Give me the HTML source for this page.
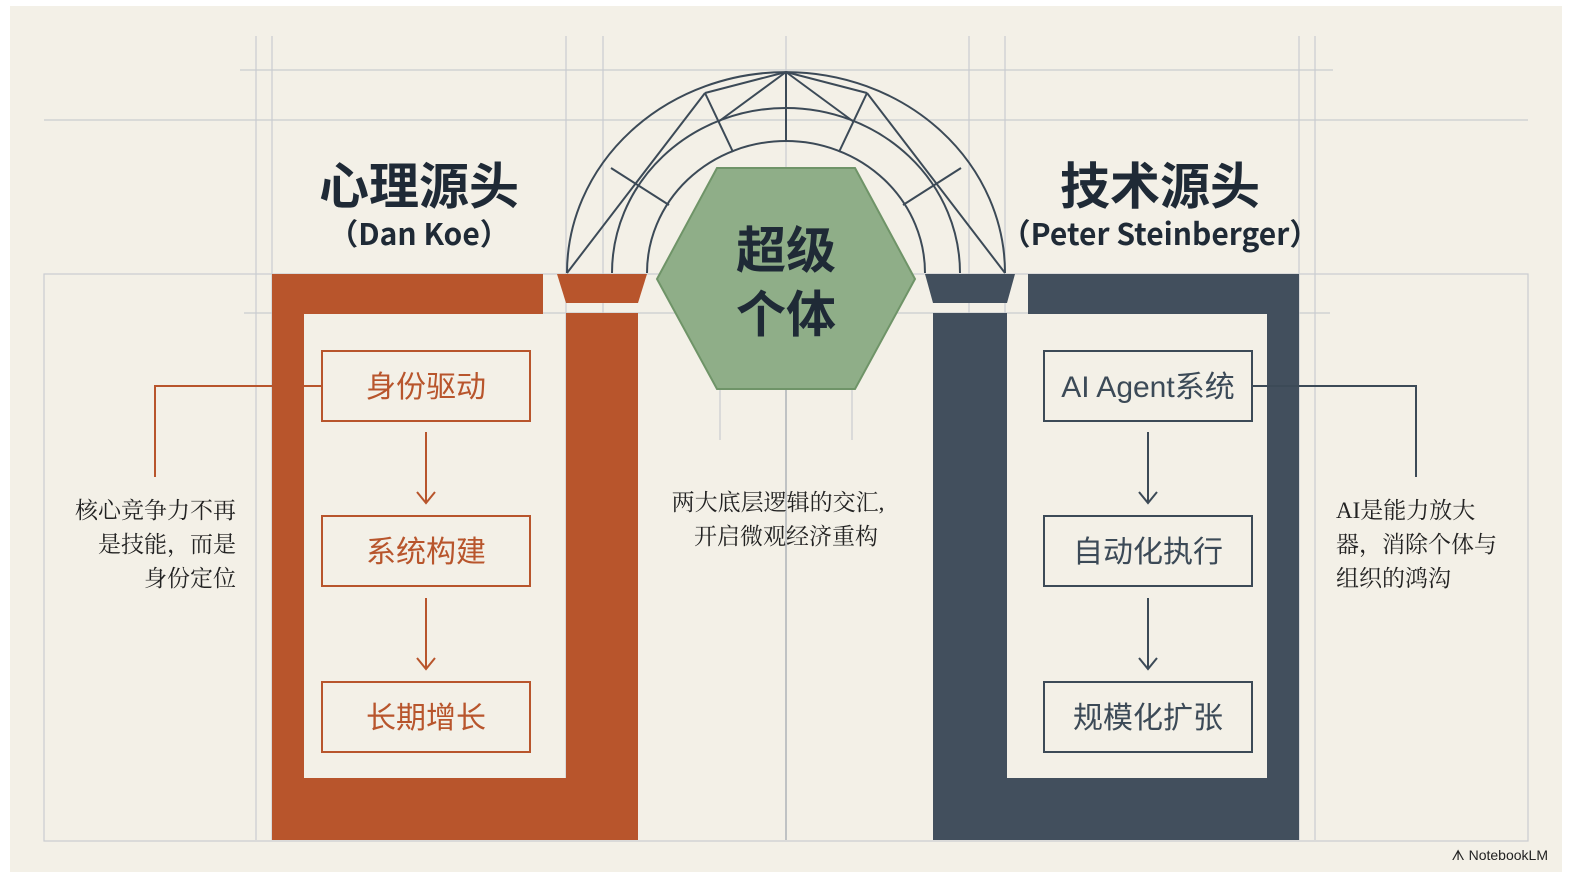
<!DOCTYPE html>
<html><head><meta charset="utf-8"><style>
html,body{margin:0;padding:0;background:#fff;}
svg{display:block}
.h{font-family:"Liberation Sans","Noto Sans CJK SC",sans-serif;font-weight:700;fill:#1f2a36}
.s{font-family:"Noto Sans CJK SC",sans-serif;font-weight:700;fill:#1f2a36}
.b{font-family:"Liberation Sans","Noto Sans CJK SC",sans-serif;font-size:30px}
.n{font-family:"Liberation Serif","Noto Serif CJK SC",serif;font-size:23px;fill:#222}
</style></head><body>
<svg width="1588" height="888" viewBox="0 0 1588 888" xmlns="http://www.w3.org/2000/svg">
<rect x="10" y="6" width="1552" height="866" fill="#f3f0e7"/>
<g stroke="#c9ccd0" stroke-width="1.2" fill="none">
<line x1="256" y1="36" x2="256" y2="840"/><line x1="272" y1="36" x2="272" y2="840"/>
<line x1="566" y1="36" x2="566" y2="840"/><line x1="603" y1="36" x2="603" y2="840"/>
<line x1="786" y1="36" x2="786" y2="840"/>
<line x1="969" y1="36" x2="969" y2="840"/><line x1="1005" y1="36" x2="1005" y2="840"/>
<line x1="1299" y1="36" x2="1299" y2="840"/><line x1="1315" y1="36" x2="1315" y2="840"/>
<line x1="240" y1="70" x2="1333" y2="70"/><line x1="44" y1="120" x2="1528" y2="120"/>
<rect x="44" y="274" width="1484" height="567"/>
<line x1="244" y1="313" x2="1330" y2="313"/>
<line x1="720" y1="389" x2="720" y2="440"/><line x1="852" y1="389" x2="852" y2="440"/>
</g>
<line x1="786" y1="389" x2="786" y2="840" stroke="#a8adb3" stroke-width="1.3"/>
<g stroke="#3c4a57" stroke-width="2" fill="none">
<path d="M567 273 A219 201 0 0 1 1005 273"/>
<path d="M612 273 A174 165 0 0 1 960 273"/>
<path d="M647 273 A139 132 0 0 1 925 273"/>
<line x1="786" y1="72" x2="786" y2="141"/>
<line x1="786" y1="72" x2="705" y2="93"/><line x1="786" y1="72" x2="867" y2="93"/>
<line x1="786" y1="72" x2="718" y2="122"/><line x1="786" y1="72" x2="854" y2="122"/>
<line x1="705" y1="93" x2="733" y2="152"/><line x1="867" y1="93" x2="839" y2="152"/>
<line x1="705" y1="93" x2="567" y2="273"/><line x1="867" y1="93" x2="1005" y2="273"/>
<line x1="611" y1="168" x2="669" y2="205"/><line x1="961" y1="168" x2="903" y2="205"/>
</g>
<g fill="#b8552c">
<path d="M272 274H543V314H304V778H566V313H638V840H272Z"/>
<path d="M557 274H647L638 303H566Z"/>
</g>
<g fill="#424f5d">
<path d="M1299 274H1028V314H1267V778H1007V313H933V840H1299Z"/>
<path d="M925 274H1015L1007 303H933Z"/>
</g>
<path d="M657 279L717 168H855L915 279L855 389H717Z" fill="#8fae88" stroke="#6f9468" stroke-width="2"/>
<text class="h" x="786" y="268" font-size="50" text-anchor="middle">超级</text>
<text class="h" x="786" y="332" font-size="50" text-anchor="middle">个体</text>
<text class="h" x="419" y="204" font-size="50" text-anchor="middle">心理源头</text>
<text class="s" x="419" y="245" font-size="30" text-anchor="middle">（Dan Koe）</text>
<text class="h" x="1160" y="204" font-size="50" text-anchor="middle">技术源头</text>
<text class="s" x="1160" y="245" font-size="30" text-anchor="middle">（Peter Steinberger）</text>
<g fill="none" stroke="#b8552c" stroke-width="2">
<rect x="322" y="351" width="208" height="70"/><rect x="322" y="516" width="208" height="70"/><rect x="322" y="682" width="208" height="70"/>
<path d="M426 432V502M417 492L426 503L435 492M426 598V668M417 658L426 669L435 658"/>
<path d="M322 386H155V477"/>
</g>
<g class="b" fill="#b8552c" text-anchor="middle">
<text x="426" y="397">身份驱动</text><text x="426" y="562">系统构建</text><text x="426" y="728">长期增长</text>
</g>
<g fill="none" stroke="#3c4a57" stroke-width="2">
<rect x="1044" y="351" width="208" height="70"/><rect x="1044" y="516" width="208" height="70"/><rect x="1044" y="682" width="208" height="70"/>
<path d="M1148 432V502M1139 492L1148 503L1157 492M1148 598V668M1139 658L1148 669L1157 658"/>
<path d="M1252 386H1416V477"/>
</g>
<g class="b" fill="#3c4a57" text-anchor="middle">
<text x="1148" y="397">AI Agent系统</text><text x="1148" y="562">自动化执行</text><text x="1148" y="728">规模化扩张</text>
</g>
<g class="n" text-anchor="end">
<text x="236" y="518">核心竞争力不再</text><text x="236" y="552">是技能，而是</text><text x="236" y="586">身份定位</text>
</g>
<g class="n">
<text x="1336" y="518">AI是能力放大</text><text x="1336" y="552">器，消除个体与</text><text x="1336" y="586">组织的鸿沟</text>
</g>
<g class="n" text-anchor="middle">
<text x="778" y="510">两大底层逻辑的交汇,</text><text x="786" y="544">开启微观经济重构</text>
</g>
<text x="1548" y="860" text-anchor="end" font-family="Liberation Sans,sans-serif" font-size="14" fill="#222">ᗑ NotebookLM</text>
</svg>
</body></html>
